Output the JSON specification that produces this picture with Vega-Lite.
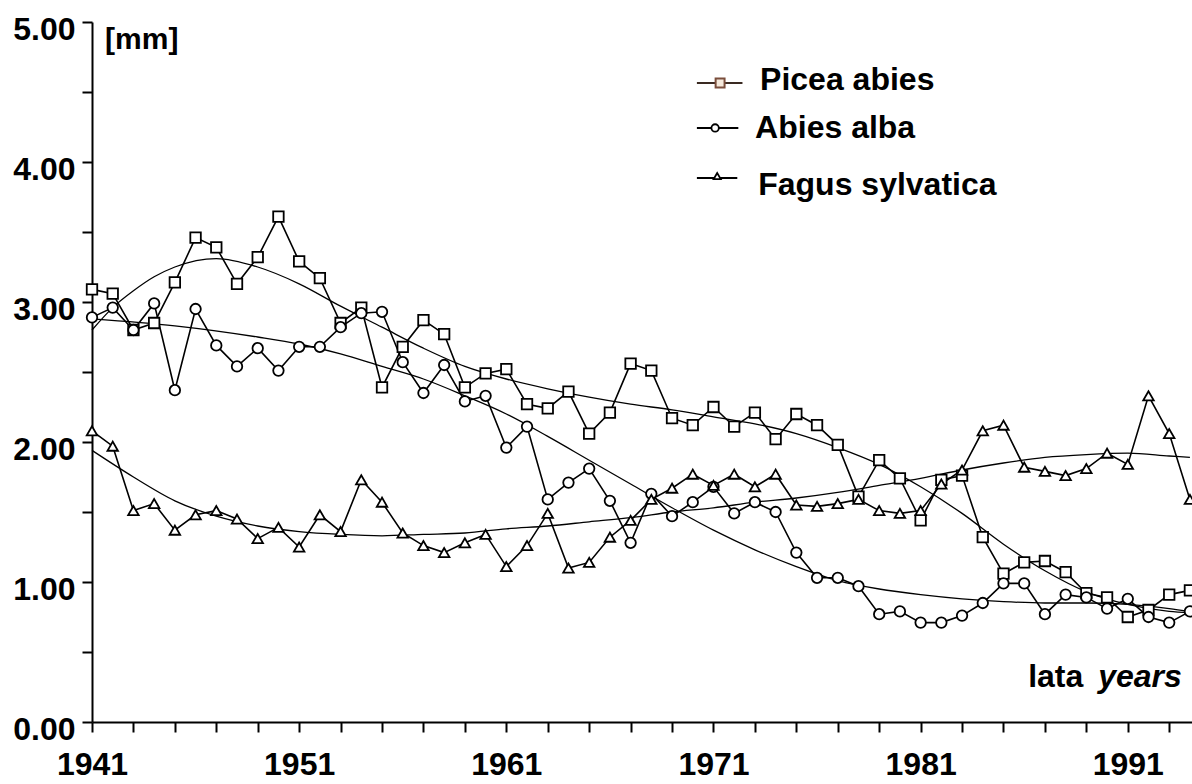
{
  "$schema": "https://vega.github.io/schema/vega-lite/v6.json",
  "width": 1100,
  "height": 700,
  "autosize": {"type": "none"},
  "padding": {"left": 92, "top": 22, "right": 0, "bottom": 62},
  "background": "white",
  "config": {
    "view": {"stroke": null},
    "font": "Liberation Sans",
    "axis": {"grid": false, "title": null, "domainColor": "black", "domainWidth": 2, "tickColor": "black", "tickWidth": 2, "tickSize": 10, "labelColor": "black", "labelFont": "Liberation Sans", "labelFontSize": 32, "labelFontWeight": "bold", "labelOverlap": false, "labelFlush": false}
  },
  "datasets": {
    "obs": [
      {"year":1941,"species":"Picea abies","mm":3.09},{"year":1942,"species":"Picea abies","mm":3.06},{"year":1943,"species":"Picea abies","mm":2.80},{"year":1944,"species":"Picea abies","mm":2.85},{"year":1945,"species":"Picea abies","mm":3.14},{"year":1946,"species":"Picea abies","mm":3.46},{"year":1947,"species":"Picea abies","mm":3.39},{"year":1948,"species":"Picea abies","mm":3.13},{"year":1949,"species":"Picea abies","mm":3.32},{"year":1950,"species":"Picea abies","mm":3.61},
      {"year":1951,"species":"Picea abies","mm":3.29},{"year":1952,"species":"Picea abies","mm":3.17},{"year":1953,"species":"Picea abies","mm":2.85},{"year":1954,"species":"Picea abies","mm":2.96},{"year":1955,"species":"Picea abies","mm":2.39},{"year":1956,"species":"Picea abies","mm":2.68},{"year":1957,"species":"Picea abies","mm":2.87},{"year":1958,"species":"Picea abies","mm":2.77},{"year":1959,"species":"Picea abies","mm":2.39},{"year":1960,"species":"Picea abies","mm":2.49},
      {"year":1961,"species":"Picea abies","mm":2.52},{"year":1962,"species":"Picea abies","mm":2.27},{"year":1963,"species":"Picea abies","mm":2.24},{"year":1964,"species":"Picea abies","mm":2.36},{"year":1965,"species":"Picea abies","mm":2.06},{"year":1966,"species":"Picea abies","mm":2.21},{"year":1967,"species":"Picea abies","mm":2.56},{"year":1968,"species":"Picea abies","mm":2.51},{"year":1969,"species":"Picea abies","mm":2.17},{"year":1970,"species":"Picea abies","mm":2.12},
      {"year":1971,"species":"Picea abies","mm":2.25},{"year":1972,"species":"Picea abies","mm":2.11},{"year":1973,"species":"Picea abies","mm":2.21},{"year":1974,"species":"Picea abies","mm":2.02},{"year":1975,"species":"Picea abies","mm":2.20},{"year":1976,"species":"Picea abies","mm":2.12},{"year":1977,"species":"Picea abies","mm":1.98},{"year":1978,"species":"Picea abies","mm":1.61},{"year":1979,"species":"Picea abies","mm":1.87},{"year":1980,"species":"Picea abies","mm":1.74},
      {"year":1981,"species":"Picea abies","mm":1.44},{"year":1982,"species":"Picea abies","mm":1.73},{"year":1983,"species":"Picea abies","mm":1.76},{"year":1984,"species":"Picea abies","mm":1.32},{"year":1985,"species":"Picea abies","mm":1.06},{"year":1986,"species":"Picea abies","mm":1.14},{"year":1987,"species":"Picea abies","mm":1.15},{"year":1988,"species":"Picea abies","mm":1.07},{"year":1989,"species":"Picea abies","mm":0.92},{"year":1990,"species":"Picea abies","mm":0.89},
      {"year":1991,"species":"Picea abies","mm":0.75},{"year":1992,"species":"Picea abies","mm":0.80},{"year":1993,"species":"Picea abies","mm":0.91},{"year":1994,"species":"Picea abies","mm":0.94},
      {"year":1941,"species":"Abies alba","mm":2.89},{"year":1942,"species":"Abies alba","mm":2.96},{"year":1943,"species":"Abies alba","mm":2.80},{"year":1944,"species":"Abies alba","mm":2.99},{"year":1945,"species":"Abies alba","mm":2.37},{"year":1946,"species":"Abies alba","mm":2.95},{"year":1947,"species":"Abies alba","mm":2.69},{"year":1948,"species":"Abies alba","mm":2.54},{"year":1949,"species":"Abies alba","mm":2.67},{"year":1950,"species":"Abies alba","mm":2.51},
      {"year":1951,"species":"Abies alba","mm":2.68},{"year":1952,"species":"Abies alba","mm":2.68},{"year":1953,"species":"Abies alba","mm":2.82},{"year":1954,"species":"Abies alba","mm":2.92},{"year":1955,"species":"Abies alba","mm":2.93},{"year":1956,"species":"Abies alba","mm":2.57},{"year":1957,"species":"Abies alba","mm":2.35},{"year":1958,"species":"Abies alba","mm":2.55},{"year":1959,"species":"Abies alba","mm":2.29},{"year":1960,"species":"Abies alba","mm":2.33},
      {"year":1961,"species":"Abies alba","mm":1.96},{"year":1962,"species":"Abies alba","mm":2.11},{"year":1963,"species":"Abies alba","mm":1.59},{"year":1964,"species":"Abies alba","mm":1.71},{"year":1965,"species":"Abies alba","mm":1.81},{"year":1966,"species":"Abies alba","mm":1.58},{"year":1967,"species":"Abies alba","mm":1.28},{"year":1968,"species":"Abies alba","mm":1.63},{"year":1969,"species":"Abies alba","mm":1.47},{"year":1970,"species":"Abies alba","mm":1.57},
      {"year":1971,"species":"Abies alba","mm":1.68},{"year":1972,"species":"Abies alba","mm":1.49},{"year":1973,"species":"Abies alba","mm":1.57},{"year":1974,"species":"Abies alba","mm":1.50},{"year":1975,"species":"Abies alba","mm":1.21},{"year":1976,"species":"Abies alba","mm":1.03},{"year":1977,"species":"Abies alba","mm":1.03},{"year":1978,"species":"Abies alba","mm":0.97},{"year":1979,"species":"Abies alba","mm":0.77},{"year":1980,"species":"Abies alba","mm":0.79},
      {"year":1981,"species":"Abies alba","mm":0.71},{"year":1982,"species":"Abies alba","mm":0.71},{"year":1983,"species":"Abies alba","mm":0.76},{"year":1984,"species":"Abies alba","mm":0.85},{"year":1985,"species":"Abies alba","mm":0.99},{"year":1986,"species":"Abies alba","mm":0.99},{"year":1987,"species":"Abies alba","mm":0.77},{"year":1988,"species":"Abies alba","mm":0.91},{"year":1989,"species":"Abies alba","mm":0.89},{"year":1990,"species":"Abies alba","mm":0.81},
      {"year":1991,"species":"Abies alba","mm":0.88},{"year":1992,"species":"Abies alba","mm":0.75},{"year":1993,"species":"Abies alba","mm":0.71},{"year":1994,"species":"Abies alba","mm":0.79},
      {"year":1941,"species":"Fagus sylvatica","mm":2.08},{"year":1942,"species":"Fagus sylvatica","mm":1.97},{"year":1943,"species":"Fagus sylvatica","mm":1.51},{"year":1944,"species":"Fagus sylvatica","mm":1.56},{"year":1945,"species":"Fagus sylvatica","mm":1.37},{"year":1946,"species":"Fagus sylvatica","mm":1.48},{"year":1947,"species":"Fagus sylvatica","mm":1.51},{"year":1948,"species":"Fagus sylvatica","mm":1.45},{"year":1949,"species":"Fagus sylvatica","mm":1.31},{"year":1950,"species":"Fagus sylvatica","mm":1.39},
      {"year":1951,"species":"Fagus sylvatica","mm":1.25},{"year":1952,"species":"Fagus sylvatica","mm":1.48},{"year":1953,"species":"Fagus sylvatica","mm":1.36},{"year":1954,"species":"Fagus sylvatica","mm":1.73},{"year":1955,"species":"Fagus sylvatica","mm":1.57},{"year":1956,"species":"Fagus sylvatica","mm":1.35},{"year":1957,"species":"Fagus sylvatica","mm":1.26},{"year":1958,"species":"Fagus sylvatica","mm":1.21},{"year":1959,"species":"Fagus sylvatica","mm":1.28},{"year":1960,"species":"Fagus sylvatica","mm":1.34},
      {"year":1961,"species":"Fagus sylvatica","mm":1.11},{"year":1962,"species":"Fagus sylvatica","mm":1.26},{"year":1963,"species":"Fagus sylvatica","mm":1.49},{"year":1964,"species":"Fagus sylvatica","mm":1.10},{"year":1965,"species":"Fagus sylvatica","mm":1.14},{"year":1966,"species":"Fagus sylvatica","mm":1.32},{"year":1967,"species":"Fagus sylvatica","mm":1.44},{"year":1968,"species":"Fagus sylvatica","mm":1.59},{"year":1969,"species":"Fagus sylvatica","mm":1.67},{"year":1970,"species":"Fagus sylvatica","mm":1.77},
      {"year":1971,"species":"Fagus sylvatica","mm":1.69},{"year":1972,"species":"Fagus sylvatica","mm":1.77},{"year":1973,"species":"Fagus sylvatica","mm":1.68},{"year":1974,"species":"Fagus sylvatica","mm":1.77},{"year":1975,"species":"Fagus sylvatica","mm":1.55},{"year":1976,"species":"Fagus sylvatica","mm":1.54},{"year":1977,"species":"Fagus sylvatica","mm":1.56},{"year":1978,"species":"Fagus sylvatica","mm":1.59},{"year":1979,"species":"Fagus sylvatica","mm":1.51},{"year":1980,"species":"Fagus sylvatica","mm":1.49},
      {"year":1981,"species":"Fagus sylvatica","mm":1.51},{"year":1982,"species":"Fagus sylvatica","mm":1.70},{"year":1983,"species":"Fagus sylvatica","mm":1.80},{"year":1984,"species":"Fagus sylvatica","mm":2.08},{"year":1985,"species":"Fagus sylvatica","mm":2.12},{"year":1986,"species":"Fagus sylvatica","mm":1.82},{"year":1987,"species":"Fagus sylvatica","mm":1.79},{"year":1988,"species":"Fagus sylvatica","mm":1.76},{"year":1989,"species":"Fagus sylvatica","mm":1.81},{"year":1990,"species":"Fagus sylvatica","mm":1.92},
      {"year":1991,"species":"Fagus sylvatica","mm":1.84},{"year":1992,"species":"Fagus sylvatica","mm":2.33},{"year":1993,"species":"Fagus sylvatica","mm":2.06},{"year":1994,"species":"Fagus sylvatica","mm":1.59}
    ],
    "trend": [
      {"year":1941,"species":"Picea abies","mm":2.80},{"year":1942,"species":"Picea abies","mm":2.96},{"year":1943,"species":"Picea abies","mm":3.08},{"year":1944,"species":"Picea abies","mm":3.18},{"year":1945,"species":"Picea abies","mm":3.25},{"year":1947,"species":"Picea abies","mm":3.31},{"year":1949,"species":"Picea abies","mm":3.25},{"year":1951,"species":"Picea abies","mm":3.13},{"year":1953,"species":"Picea abies","mm":2.97},{"year":1955,"species":"Picea abies","mm":2.82},{"year":1957,"species":"Picea abies","mm":2.67},{"year":1959,"species":"Picea abies","mm":2.54},{"year":1961,"species":"Picea abies","mm":2.45},{"year":1963,"species":"Picea abies","mm":2.38},{"year":1965,"species":"Picea abies","mm":2.32},{"year":1967,"species":"Picea abies","mm":2.27},{"year":1969,"species":"Picea abies","mm":2.23},{"year":1971,"species":"Picea abies","mm":2.18},{"year":1973,"species":"Picea abies","mm":2.13},{"year":1975,"species":"Picea abies","mm":2.06},{"year":1977,"species":"Picea abies","mm":1.96},{"year":1979,"species":"Picea abies","mm":1.84},{"year":1981,"species":"Picea abies","mm":1.68},{"year":1983,"species":"Picea abies","mm":1.49},{"year":1985,"species":"Picea abies","mm":1.27},{"year":1987,"species":"Picea abies","mm":1.08},{"year":1989,"species":"Picea abies","mm":0.93},{"year":1991,"species":"Picea abies","mm":0.84},{"year":1993,"species":"Picea abies","mm":0.79},{"year":1994,"species":"Picea abies","mm":0.78},
      {"year":1941,"species":"Abies alba","mm":2.88},{"year":1945,"species":"Abies alba","mm":2.83},{"year":1949,"species":"Abies alba","mm":2.75},{"year":1951,"species":"Abies alba","mm":2.70},{"year":1953,"species":"Abies alba","mm":2.63},{"year":1955,"species":"Abies alba","mm":2.54},{"year":1957,"species":"Abies alba","mm":2.45},{"year":1959,"species":"Abies alba","mm":2.33},{"year":1961,"species":"Abies alba","mm":2.20},{"year":1963,"species":"Abies alba","mm":2.04},{"year":1965,"species":"Abies alba","mm":1.87},{"year":1967,"species":"Abies alba","mm":1.70},{"year":1969,"species":"Abies alba","mm":1.53},{"year":1971,"species":"Abies alba","mm":1.37},{"year":1973,"species":"Abies alba","mm":1.23},{"year":1975,"species":"Abies alba","mm":1.11},{"year":1977,"species":"Abies alba","mm":1.01},{"year":1979,"species":"Abies alba","mm":0.95},{"year":1981,"species":"Abies alba","mm":0.91},{"year":1983,"species":"Abies alba","mm":0.88},{"year":1985,"species":"Abies alba","mm":0.86},{"year":1987,"species":"Abies alba","mm":0.85},{"year":1989,"species":"Abies alba","mm":0.85},{"year":1991,"species":"Abies alba","mm":0.84},{"year":1993,"species":"Abies alba","mm":0.81},{"year":1994,"species":"Abies alba","mm":0.79},
      {"year":1941,"species":"Fagus sylvatica","mm":1.94},{"year":1943,"species":"Fagus sylvatica","mm":1.75},{"year":1945,"species":"Fagus sylvatica","mm":1.58},{"year":1947,"species":"Fagus sylvatica","mm":1.47},{"year":1949,"species":"Fagus sylvatica","mm":1.40},{"year":1951,"species":"Fagus sylvatica","mm":1.36},{"year":1953,"species":"Fagus sylvatica","mm":1.34},{"year":1955,"species":"Fagus sylvatica","mm":1.33},{"year":1957,"species":"Fagus sylvatica","mm":1.34},{"year":1959,"species":"Fagus sylvatica","mm":1.35},{"year":1961,"species":"Fagus sylvatica","mm":1.38},{"year":1963,"species":"Fagus sylvatica","mm":1.40},{"year":1965,"species":"Fagus sylvatica","mm":1.43},{"year":1967,"species":"Fagus sylvatica","mm":1.46},{"year":1969,"species":"Fagus sylvatica","mm":1.50},{"year":1971,"species":"Fagus sylvatica","mm":1.53},{"year":1973,"species":"Fagus sylvatica","mm":1.57},{"year":1975,"species":"Fagus sylvatica","mm":1.60},{"year":1977,"species":"Fagus sylvatica","mm":1.64},{"year":1979,"species":"Fagus sylvatica","mm":1.69},{"year":1981,"species":"Fagus sylvatica","mm":1.74},{"year":1983,"species":"Fagus sylvatica","mm":1.80},{"year":1985,"species":"Fagus sylvatica","mm":1.85},{"year":1987,"species":"Fagus sylvatica","mm":1.89},{"year":1989,"species":"Fagus sylvatica","mm":1.91},{"year":1991,"species":"Fagus sylvatica","mm":1.92},{"year":1993,"species":"Fagus sylvatica","mm":1.90},{"year":1994,"species":"Fagus sylvatica","mm":1.89}
    ],
    "one": [{}]
  },
  "layer": [
    {
      "data": {"name": "trend"},
      "mark": {"type": "line", "interpolate": "monotone", "stroke": "black", "strokeWidth": 1.3},
      "encoding": {
        "x": {"field": "year", "type": "quantitative", "scale": {"domain": [1941, 1994.1], "nice": false, "zero": false},
              "axis": {"values": [1941,1942,1943,1944,1945,1946,1947,1948,1949,1950,1951,1952,1953,1954,1955,1956,1957,1958,1959,1960,1961,1962,1963,1964,1965,1966,1967,1968,1969,1970,1971,1972,1973,1974,1975,1976,1977,1978,1979,1980,1981,1982,1983,1984,1985,1986,1987,1988,1989,1990,1991,1992,1993,1994],
                       "format": "d", "labelExpr": "(datum.value - 1941) % 10 === 0 ? datum.label : ''", "labelBaseline": "top", "labelPadding": 17}},
        "y": {"field": "mm", "type": "quantitative", "scale": {"domain": [0, 5], "nice": false, "zero": true},
              "axis": {"values": [0,0.5,1,1.5,2,2.5,3,3.5,4,4.5,5], "labelExpr": "datum.value % 1 === 0 ? format(datum.value, '.2f') : ''", "labelPadding": 7, "labelOffset": 7, "labelBaseline": "middle"}},
        "detail": {"field": "species"}
      }
    },
    {
      "data": {"name": "obs"},
      "mark": {"type": "line", "stroke": "black", "strokeWidth": 1.6},
      "encoding": {
        "x": {"field": "year", "type": "quantitative"},
        "y": {"field": "mm", "type": "quantitative"},
        "detail": {"field": "species"}
      }
    },
    {
      "data": {"name": "obs"},
      "mark": {"type": "point", "filled": true, "fill": "white", "stroke": "black", "strokeWidth": 1.8, "size": 110, "opacity": 1},
      "encoding": {
        "x": {"field": "year", "type": "quantitative"},
        "y": {"field": "mm", "type": "quantitative"},
        "shape": {"field": "species", "type": "nominal", "scale": {"domain": ["Picea abies", "Abies alba", "Fagus sylvatica"], "range": ["square", "circle", "triangle-up"]}, "legend": null}
      }
    },
    {"data": {"name": "one"}, "mark": {"type": "rule", "stroke": "#3a2a22", "strokeWidth": 2}, "encoding": {"x": {"datum": 1970.2, "type": "quantitative"}, "x2": {"datum": 1972.4}, "y": {"datum": 4.564, "type": "quantitative"}}},
    {"data": {"name": "one"}, "mark": {"type": "rule", "stroke": "black", "strokeWidth": 2}, "encoding": {"x": {"datum": 1970.2, "type": "quantitative"}, "x2": {"datum": 1972.2}, "y": {"datum": 4.243, "type": "quantitative"}}},
    {"data": {"name": "one"}, "mark": {"type": "rule", "stroke": "black", "strokeWidth": 2}, "encoding": {"x": {"datum": 1970.2, "type": "quantitative"}, "x2": {"datum": 1972.15}, "y": {"datum": 3.886, "type": "quantitative"}}},
    {"data": {"name": "one"}, "mark": {"type": "point", "shape": "square", "size": 80, "filled": true, "fill": "#f5e9dc", "stroke": "#7a4e3c", "strokeWidth": 2, "opacity": 1}, "encoding": {"x": {"datum": 1971.32, "type": "quantitative"}, "y": {"datum": 4.564, "type": "quantitative"}}},
    {"data": {"name": "one"}, "mark": {"type": "point", "shape": "circle", "size": 55, "filled": true, "fill": "white", "stroke": "black", "strokeWidth": 1.8, "opacity": 1}, "encoding": {"x": {"datum": 1971.08, "type": "quantitative"}, "y": {"datum": 4.243, "type": "quantitative"}}},
    {"data": {"name": "one"}, "mark": {"type": "point", "shape": "triangle-up", "size": 50, "filled": true, "fill": "white", "stroke": "black", "strokeWidth": 1.8, "opacity": 1}, "encoding": {"x": {"datum": 1971.18, "type": "quantitative"}, "y": {"datum": 3.9, "type": "quantitative"}}},
    {"data": {"name": "one"}, "mark": {"type": "text", "text": "Picea abies", "align": "left", "baseline": "alphabetic", "fontSize": 32, "fontWeight": "bold", "font": "Liberation Sans", "color": "black"}, "encoding": {"x": {"datum": 1973.25, "type": "quantitative"}, "y": {"datum": 4.514, "type": "quantitative"}}},
    {"data": {"name": "one"}, "mark": {"type": "text", "text": "Abies alba", "align": "left", "baseline": "alphabetic", "fontSize": 32, "fontWeight": "bold", "font": "Liberation Sans", "color": "black"}, "encoding": {"x": {"datum": 1973.01, "type": "quantitative"}, "y": {"datum": 4.171, "type": "quantitative"}}},
    {"data": {"name": "one"}, "mark": {"type": "text", "text": "Fagus sylvatica", "align": "left", "baseline": "alphabetic", "fontSize": 32, "fontWeight": "bold", "font": "Liberation Sans", "color": "black"}, "encoding": {"x": {"datum": 1973.16, "type": "quantitative"}, "y": {"datum": 3.764, "type": "quantitative"}}},
    {"data": {"name": "one"}, "mark": {"type": "text", "text": "[mm]", "align": "left", "baseline": "alphabetic", "fontSize": 30, "fontWeight": "bold", "font": "Liberation Sans", "color": "black"}, "encoding": {"x": {"datum": 1941.63, "type": "quantitative"}, "y": {"datum": 4.807, "type": "quantitative"}}},
    {"data": {"name": "one"}, "mark": {"type": "text", "text": "lata", "align": "left", "baseline": "alphabetic", "fontSize": 32, "fontWeight": "bold", "font": "Liberation Sans", "color": "black"}, "encoding": {"x": {"datum": 1986.19, "type": "quantitative"}, "y": {"datum": 0.25, "type": "quantitative"}}},
    {"data": {"name": "one"}, "mark": {"type": "text", "text": "years", "align": "left", "baseline": "alphabetic", "fontSize": 32, "fontWeight": "bold", "fontStyle": "italic", "font": "Liberation Sans", "color": "black"}, "encoding": {"x": {"datum": 1989.57, "type": "quantitative"}, "y": {"datum": 0.25, "type": "quantitative"}}}
  ]
}
